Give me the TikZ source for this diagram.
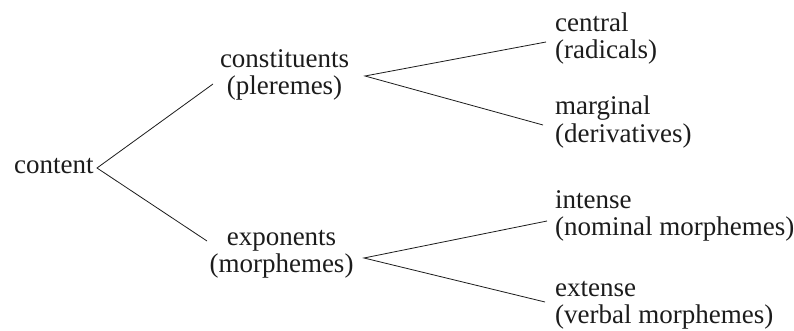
\documentclass[tikz,border=0pt]{standalone}
\usepackage{fontspec}
\setmainfont{Liberation Serif}
\usepackage{xcolor}
\definecolor{inkgray}{RGB}{28,28,28}
\tikzset{
  term/.style={inner sep=0pt,text=inkgray,font=\fontsize{27}{26}\selectfont},
  mid/.style={term,anchor=north,align=center},
  leaf/.style={term,anchor=north west,align=left},
  twig/.style={draw=inkgray,line width=0.8pt}
}

\begin{document}
\begin{tikzpicture}[x=1pt,y=-1pt]
\useasboundingbox[fill=white] (0,0) rectangle (794,331);
% ---- TERMS ----
\node[term,anchor=north west] (content) at (14,154.8) {\strut content};
\node[mid] (cons) at (284.5,48.8) {\strut constituents\\(pleremes)};
\node[mid] (expo) at (281.5,226.8) {\strut exponents\\(morphemes)};
\node[leaf] (central) at (555,12.5) {\strut central\\(radicals)};
\node[leaf] (marginal) at (555,95.8) {\strut marginal\\(derivatives)};
\node[leaf] (intense) at (555,189.8) {\strut intense\\(nominal morphemes)};
\node[leaf] (extense) at (555,277.8) {\strut extense\\(verbal morphemes)};
% ---- BRANCHES ----
\draw[twig] ([shift={(-71.5,35.2)}]cons.north) -- ([shift={(83,13.2)}]content.north west) -- ([shift={(-74.5,14.2)}]expo.north);
\draw[twig] ([shift={(-9,29.5)}]central.north west) -- ([shift={(80.5,27.2)}]cons.north) -- ([shift={(-12,29.2)}]marginal.north west);
\draw[twig] ([shift={(-8,31.2)}]intense.north west) -- ([shift={(82.5,31.2)}]expo.north) -- ([shift={(-10,24.2)}]extense.north west);
\end{tikzpicture}
\end{document}
